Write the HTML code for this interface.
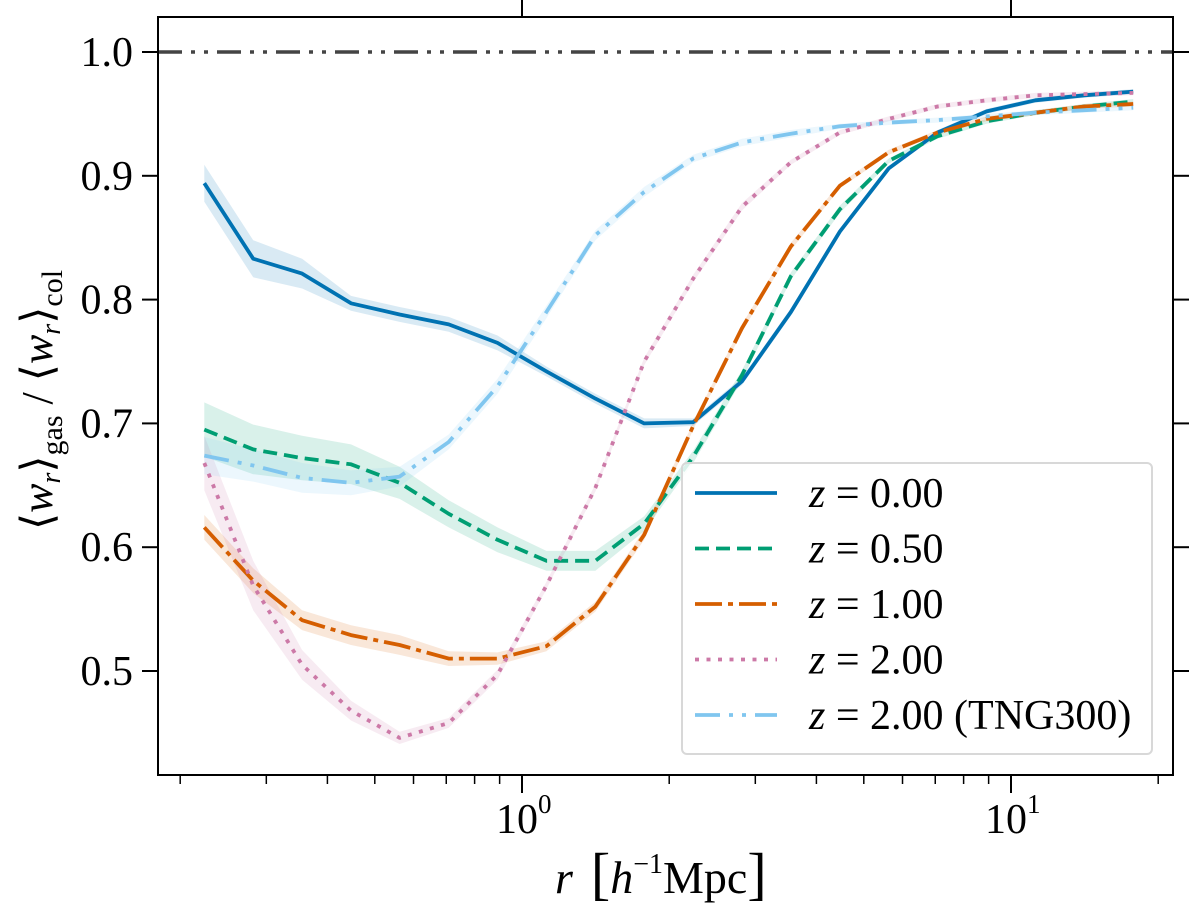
<!DOCTYPE html>
<html><head><meta charset="utf-8">
<style>
html,body{margin:0;padding:0;background:#fff;}
svg{display:block;font-family:"Liberation Serif","DejaVu Serif",serif;}
</style></head>
<body>
<svg id="chart" width="1200" height="921" viewBox="0 0 1200 921" xmlns="http://www.w3.org/2000/svg">
  <g id="bands"></g>
  <g id="lines"></g>
  <g id="axes"></g>
  <text x="555" y="893" font-size="46"><tspan font-style="italic">r</tspan><tspan dx="18" font-size="58">[</tspan><tspan font-style="italic">h</tspan><tspan font-size="28" dy="-20">−1</tspan><tspan dy="20">Mpc</tspan><tspan font-size="58">]</tspan></text>
  <text transform="translate(52,400) rotate(-90)" text-anchor="middle" font-size="44">⟨<tspan font-style="italic">w</tspan><tspan font-style="italic" font-size="28" dy="8">r</tspan><tspan dy="-8">⟩</tspan><tspan font-size="30" dy="10">gas</tspan><tspan dy="-10"> / ⟨</tspan><tspan font-style="italic">w</tspan><tspan font-style="italic" font-size="28" dy="8">r</tspan><tspan dy="-8">⟩</tspan><tspan font-size="30" dy="10">col</tspan></text>
  <g id="legend"></g>
</svg>
<script>
const radii = [0.224,0.282,0.355,0.447,0.562,0.708,0.891,1.122,1.413,1.778,2.239,2.818,3.548,4.467,5.623,7.079,8.913,11.22,14.13,17.78];
const z000 = [0.894,0.833,0.821,0.797,0.788,0.780,0.765,0.742,0.720,0.700,0.701,0.734,0.790,0.855,0.906,0.935,0.952,0.961,0.965,0.968];
const z050 = [0.695,0.679,0.672,0.667,0.652,0.627,0.606,0.589,0.589,0.619,0.673,0.739,0.819,0.873,0.912,0.932,0.944,0.951,0.956,0.960];
const z100 = [0.616,0.573,0.541,0.529,0.521,0.510,0.510,0.520,0.552,0.610,0.698,0.777,0.843,0.892,0.919,0.935,0.946,0.951,0.956,0.958];
const z200 = [0.668,0.569,0.505,0.468,0.446,0.458,0.497,0.569,0.648,0.750,0.817,0.875,0.911,0.935,0.946,0.956,0.961,0.965,0.966,0.967];
const z200tng = [0.674,0.666,0.656,0.652,0.657,0.685,0.730,0.790,0.852,0.887,0.914,0.927,0.934,0.940,0.943,0.945,0.948,0.951,0.953,0.955];
const err000 = [0.015,0.015,0.012,0.006,0.006,0.006,0.006,0.004,0.004,0.004,0.003,0.003,0.003,0.002,0.002,0.002,0.002,0.002,0.002,0.002];
const err050 = [0.022,0.020,0.018,0.016,0.013,0.011,0.010,0.008,0.008,0.006,0.005,0.004,0.003,0.003,0.002,0.002,0.002,0.002,0.002,0.002];
const err100 = [0.010,0.010,0.008,0.008,0.008,0.006,0.005,0.004,0.004,0.004,0.003,0.003,0.003,0.002,0.002,0.002,0.002,0.002,0.002,0.002];
const err200 = [0.022,0.020,0.012,0.008,0.005,0.004,0.004,0.003,0.003,0.003,0.003,0.003,0.002,0.002,0.002,0.002,0.002,0.002,0.002,0.002];
const err200tng = [0.015,0.013,0.012,0.010,0.008,0.006,0.006,0.005,0.004,0.004,0.003,0.003,0.003,0.002,0.002,0.002,0.002,0.002,0.002,0.002];
const yTicks = [0.5,0.6,0.7,0.8,0.9,1.0];
const yTickLabels = ["0.5","0.6","0.7","0.8","0.9","1.0"];
const xMajor = [1,10];
const xMajorExp = ["0","1"];
const xMinor = [0.2,0.3,0.4,0.5,0.6,0.7,0.8,0.9,2,3,4,5,6,7,8,9,20];
const legendLabels = ["z = 0.00","z = 0.50","z = 1.00","z = 2.00","z = 2.00 (TNG300)"];
const refLevel = 1.0;

const NS="http://www.w3.org/2000/svg";
const L=158,R=1173,T=17,B=775;
function xs(r){return 522+Math.log10(r)*489;}
function ys(v){return 671-(v-0.5)*1238;}
function mk(tag,attrs,parent){const e=document.createElementNS(NS,tag);for(const k in attrs)e.setAttribute(k,attrs[k]);parent.appendChild(e);return e;}

const series=[
 {vals:z000,err:z000&&err000,color:"#0072B2",dash:"",name:"z000"},
 {vals:z050,err:err050,color:"#009E73",dash:"14 7",name:"z050"},
 {vals:z100,err:err100,color:"#D55E00",dash:"27 6 5 6",name:"z100"},
 {vals:z200,err:err200,color:"#CC79A7",dash:"4 7.5",name:"z200"},
 {vals:z200tng,err:err200tng,color:"#80C6EF",dash:"25 9 4 9 4 9",name:"z200-tng300"}
];
const bands=document.getElementById('bands'),lines=document.getElementById('lines'),axes=document.getElementById('axes'),leg=document.getElementById('legend');

// reference line
const ref=mk('line',{x1:L,x2:R,y1:ys(refLevel),y2:ys(refLevel),stroke:"#444",'stroke-width':3.5,'stroke-dasharray':"24 9 4 9 4 9"},lines);



series.forEach(s=>{
  let up=[],dn=[];
  radii.forEach((r,i)=>{up.push(xs(r).toFixed(1)+","+ys(s.vals[i]+s.err[i]).toFixed(1));dn.unshift(xs(r).toFixed(1)+","+ys(s.vals[i]-s.err[i]).toFixed(1));});
  const b=mk('polygon',{points:up.concat(dn).join(' '),fill:s.color,'fill-opacity':0.15,stroke:"none"},bands);
  
  
  const pts=radii.map((r,i)=>xs(r).toFixed(1)+","+ys(s.vals[i]).toFixed(1)).join(' ');
  const p=mk('polyline',{points:pts,fill:"none",stroke:s.color,'stroke-width':3.8,'stroke-dasharray':s.dash,'stroke-linejoin':'round'},lines);
  
  
});

// frame
const fr=mk('rect',{x:L,y:T,width:R-L,height:B-T,fill:"none",stroke:"#000",'stroke-width':2},axes);


yTicks.forEach((v,i)=>{
  const y=ys(v);
  const t1=mk('line',{x1:L-16,x2:L,y1:y,y2:y,stroke:"#000",'stroke-width':2},axes);
  
  
  const t2=mk('line',{x1:R,x2:R+16,y1:y,y2:y,stroke:"#000",'stroke-width':2},axes);
  
  
  const tx=mk('text',{x:133,y:y+14,'text-anchor':'end','font-size':42},axes);
  tx.textContent=yTickLabels[i];
  
  
});
xMajor.forEach((r,i)=>{
  const x=xs(r);
  const t=mk('line',{x1:x,x2:x,y1:B,y2:B+18,stroke:"#000",'stroke-width':2},axes);
  
  
  const t2=mk('line',{x1:x,x2:x,y1:0,y2:T,stroke:"#000",'stroke-width':2},axes);
  
  
  const tx=mk('text',{x:x-26,y:833,'font-size':42},axes);
  
  
  tx.textContent="10";
  const sp=mk('tspan',{'font-size':27,dy:-20},tx);
  sp.textContent=xMajorExp[i];
});
xMinor.forEach(r=>{
  const x=xs(r);
  if(x<L||x>R)return;
  const t=mk('line',{x1:x,x2:x,y1:B,y2:B+9,stroke:"#000",'stroke-width':1.5},axes);
  
  
});

// legend
const lb=mk('rect',{x:682,y:463,width:470,height:291,rx:5,fill:"#fff",'fill-opacity':0.85,stroke:"#d8d8d8",'stroke-width':2},leg);


series.forEach((s,i)=>{
  const y=493+i*55.5;
  const l=mk('line',{x1:695,x2:777,y1:y,y2:y,stroke:s.color,'stroke-width':3.8,'stroke-dasharray':s.dash},leg);
  
  
  const tx=mk('text',{x:809,y:y+14,'font-size':42},leg);
  
  
  const parts=legendLabels[i].split(' = ');
  const zi=mk('tspan',{'font-style':'italic'},tx); zi.textContent=parts[0];
  const rest=mk('tspan',{},tx); rest.textContent=" = "+parts[1];
});
</script>
</body></html>
